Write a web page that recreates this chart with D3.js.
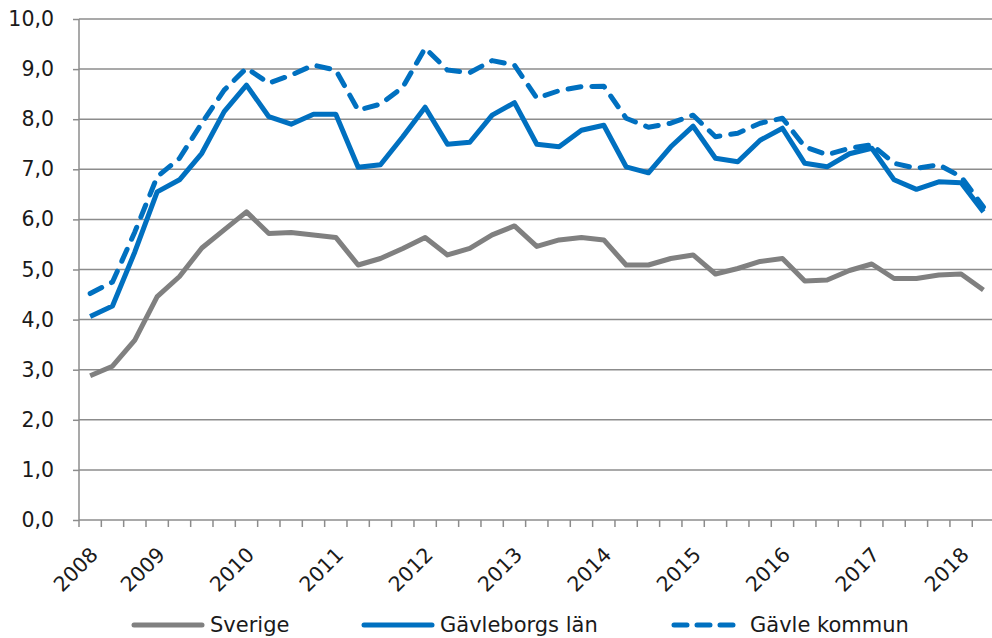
<!DOCTYPE html>
<html><head><meta charset="utf-8">
<script src="https://cdn.jsdelivr.net/npm/d3@7"></script>
<style>body{margin:0;background:#fff}svg{display:block}text{font-family:"DejaVu Sans",sans-serif;fill:#1a1a1a}</style>
</head><body><svg id="c" width="992" height="638"></svg>
<script>
const quarters = d3.range(41).map(i => { const q = i + 1; return (2008 + Math.floor(q / 4)) + "K" + (q % 4 + 1); });
const yearLabels = ["2008","","","2009","","","","2010","","","","2011","","","","2012","","","","2013","","","","2014","","","","2015","","","","2016","","","","2017","","","","2018",""];
const yTicks = [0,1,2,3,4,5,6,7,8,9,10];
const sverige = [2.88,3.07,3.59,4.46,4.86,5.43,5.79,6.15,5.72,5.74,5.69,5.64,5.09,5.22,5.42,5.64,5.29,5.42,5.69,5.87,5.46,5.59,5.64,5.59,5.09,5.09,5.22,5.29,4.91,5.02,5.16,5.22,4.77,4.79,4.98,5.11,4.82,4.82,4.89,4.91,4.59];
const gavleborg = [4.06,4.27,5.35,6.55,6.79,7.32,8.15,8.68,8.05,7.90,8.10,8.10,7.04,7.09,7.65,8.24,7.50,7.54,8.08,8.33,7.50,7.45,7.78,7.88,7.05,6.93,7.45,7.86,7.22,7.15,7.58,7.82,7.12,7.05,7.31,7.42,6.79,6.60,6.75,6.73,6.15];
const gavleKommun = [4.52,4.75,5.75,6.85,7.22,7.92,8.58,9.02,8.72,8.88,9.08,8.98,8.18,8.30,8.64,9.42,8.98,8.93,9.17,9.08,8.42,8.57,8.65,8.66,8.02,7.84,7.92,8.08,7.65,7.72,7.92,8.02,7.45,7.29,7.42,7.49,7.12,7.02,7.09,6.85,6.25];
const seriesNames = ["Sverige","Gävleborgs län","Gävle kommun"];

const svg = d3.select("#c");
const pLeft = 79, pRight = 994.6, pTop = 19, pBottom = 520;
const x = d3.scaleBand().domain(quarters).range([pLeft, pRight]).padding(0);
const y = d3.scaleLinear().domain([0,10]).range([pBottom, pTop]);
const grid = "#8c8c8c";

// gridlines
svg.append("g").selectAll("line").data(yTicks.filter(d=>d>0)).join("line")
  .attr("x1", pLeft).attr("x2", 992).attr("y1", d=>y(d)).attr("y2", d=>y(d))
  .attr("stroke", grid).attr("stroke-width", 1.5);

// y axis
const ya = svg.append("g").attr("transform", `translate(${pLeft},0)`)
  .call(d3.axisLeft(y).tickValues(yTicks).tickSize(6).tickFormat(d => d3.format(".1f")(d).replace(".", ",")));
ya.select(".domain").attr("stroke", grid).attr("stroke-width", 1.5).attr("d", `M0,${pTop}V${pBottom}`);
ya.selectAll(".tick line").attr("stroke", grid).attr("stroke-width", 1.5);
ya.selectAll(".tick text").attr("x", -25).attr("font-size", 20.5).attr("fill", "#1a1a1a").attr("font-family", "DejaVu Sans");

// x axis line and ticks at category boundaries
svg.append("line").attr("x1", pLeft).attr("x2", 992).attr("y1", pBottom).attr("y2", pBottom).attr("stroke", grid).attr("stroke-width", 1.5);
const bounds = quarters.map(q => x(q)).concat([x(quarters[quarters.length-1]) + x.bandwidth()]);
svg.append("g").selectAll("line").data(bounds).join("line")
  .attr("x1", d=>d).attr("x2", d=>d).attr("y1", pBottom).attr("y2", pBottom+7)
  .attr("stroke", grid).attr("stroke-width", 1.5);

// x labels
svg.append("g").selectAll("text").data(quarters.map((q,i)=>({q, l: yearLabels[i]})).filter(d=>d.l)).join("text")
  .attr("transform", d => `translate(${x(d.q)+x.bandwidth()/2+9},${pBottom+36}) rotate(-45)`)
  .attr("text-anchor", "end").attr("font-size", 20.5).text(d=>d.l);

const cx = (d,i) => x(quarters[i]) + x.bandwidth()/2;
const line = d3.line().x(cx).y(d=>y(d));
const styles = [
  {data: sverige, color: "#808080", dash: null},
  {data: gavleborg, color: "#0070c0", dash: null},
  {data: gavleKommun, color: "#0070c0", dash: "13,11"}
];
styles.forEach(s => {
  svg.append("path").datum(s.data).attr("d", line).attr("fill", "none")
    .attr("stroke", s.color).attr("stroke-width", 5).attr("stroke-linejoin", "round")
    .attr("stroke-linecap", s.dash ? "round" : "butt")
    .attr("stroke-dasharray", s.dash);
});

// legend
const legendX = [134, 364, 674];
const lg = svg.append("g");
seriesNames.forEach((n,i) => {
  const s = styles[i];
  lg.append("line").attr("x1", legendX[i]).attr("x2", legendX[i]+68).attr("y1", 625).attr("y2", 625)
    .attr("stroke", s.color).attr("stroke-width", 5).attr("stroke-linecap", "round")
    .attr("stroke-dasharray", s.dash ? "13,10" : null);
  lg.append("text").attr("x", legendX[i]+76).attr("y", 632).attr("font-size", 21).text(n);
});
</script></body></html>
